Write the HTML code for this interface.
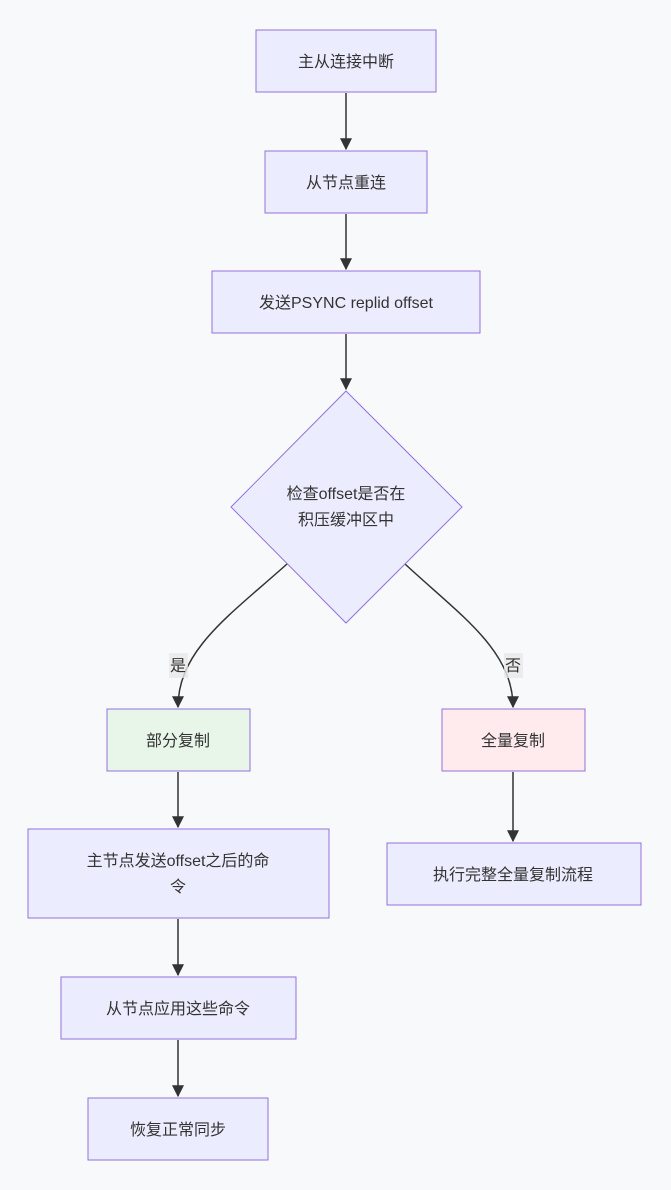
<!DOCTYPE html>
<html><head><meta charset="utf-8"><style>
html,body{margin:0;padding:0;background:#f8f9fb;}
svg text{font-family:"Liberation Sans","Noto Sans CJK SC",sans-serif;font-size:16px;fill:#333;}
</style></head><body>
<svg width="671" height="1185" xmlns="http://www.w3.org/2000/svg">
<defs><marker id="a" viewBox="0 0 10 10" refX="9" refY="5" markerWidth="8" markerHeight="8" orient="auto"><path d="M0,0L10,5L0,10z" fill="#333"/></marker></defs>
<rect width="671" height="1185" fill="#f8f9fb"/>
<g stroke="#333" stroke-width="1.5" fill="none" marker-end="url(#a)">
<line x1="346" y1="93" x2="346" y2="149"/>
<line x1="346" y1="214" x2="346" y2="269"/>
<line x1="346" y1="334" x2="346" y2="389"/>
<path d="M287,564 C230,615 178,650 178,707"/>
<path d="M405,564 C460,615 513,650 513,707"/>
<line x1="178" y1="772" x2="178" y2="827"/>
<line x1="513" y1="772" x2="513" y2="841"/>
<line x1="178" y1="919" x2="178" y2="975"/>
<line x1="178" y1="1040" x2="178" y2="1096"/>
</g>
<g stroke="#9370db" stroke-width="1" fill="#ececff">
<rect x="256" y="30" width="180" height="62"/>
<rect x="265" y="151" width="162" height="62"/>
<rect x="212" y="271" width="268" height="62"/>
<polygon points="346,391 462,507 346,623 231,507"/>
<rect x="107" y="709" width="143" height="62" fill="#e8f5e9"/>
<rect x="442" y="709" width="143" height="62" fill="#ffebee"/>
<rect x="28" y="829" width="301" height="89"/>
<rect x="387" y="843" width="254" height="62"/>
<rect x="61" y="977" width="235" height="62"/>
<rect x="88" y="1098" width="180" height="62"/>
</g>
<rect x="169" y="653" width="19" height="25" fill="#e8e8e8" opacity="0.8"/>
<rect x="504" y="653" width="19" height="25" fill="#e8e8e8" opacity="0.8"/>
<g text-anchor="middle">
<text x="346" y="67">主从连接中断</text>
<text x="346" y="188">从节点重连</text>
<text x="346" y="308">发送PSYNC replid offset</text>
<text x="346" y="499">检查offset是否在</text>
<text x="346" y="525">积压缓冲区中</text>
<text x="178" y="671">是</text>
<text x="513" y="671">否</text>
<text x="178" y="746">部分复制</text>
<text x="513" y="746">全量复制</text>
<text x="178" y="866">主节点发送offset之后的命</text>
<text x="178" y="892">令</text>
<text x="513" y="880">执行完整全量复制流程</text>
<text x="178" y="1014">从节点应用这些命令</text>
<text x="178" y="1135">恢复正常同步</text>
</g>
</svg>
</body></html>
